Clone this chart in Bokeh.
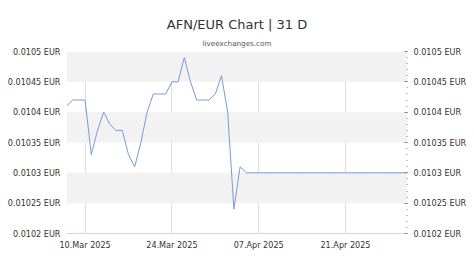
import pandas as pd
from bokeh.plotting import figure
from bokeh.models import (Range1d, FixedTicker, LinearAxis, Title,
                          DatetimeTickFormatter, BoxAnnotation)
from bokeh.embed import file_html
from bokeh.resources import INLINE

start_date = "2025-03-07"
end_date = "2025-05-01"
rates = [
    0.01041, 0.01042, 0.01042, 0.01042, 0.01033, 0.01037, 0.01040, 0.01038,
    0.01037, 0.01037, 0.01033, 0.01031, 0.01035, 0.01040, 0.01043, 0.01043,
    0.01043, 0.01045, 0.01045, 0.01049, 0.01045, 0.01042, 0.01042, 0.01042,
    0.01043,
    0.01046, 0.01040, 0.01024, 0.01031, 0.01030,
    0.01030, 0.01030, 0.01030, 0.01030, 0.01030, 0.01030, 0.01030, 0.01030,
    0.01030, 0.01030, 0.01030, 0.01030, 0.01030, 0.01030, 0.01030, 0.01030,
    0.01030, 0.01030, 0.01030, 0.01030, 0.01030, 0.01030, 0.01030, 0.01030,
    0.01030, 0.01030,
]
dates = pd.date_range(start_date, end_date, freq="D")

x_tick_dates = ["2025-03-10", "2025-03-24", "2025-04-07", "2025-04-21"]
y_ticks = [0.0102, 0.01025, 0.0103, 0.01035, 0.0104, 0.01045, 0.0105]
y_labels = ["0.0102 EUR", "0.01025 EUR", "0.0103 EUR", "0.01035 EUR",
            "0.0104 EUR", "0.01045 EUR", "0.0105 EUR"]
y_minor = [round(0.0102 + i * 0.00001, 6) for i in range(31)]

title_text = "AFN/EUR Chart | 31 D"
subtitle_text = "liveexchanges.com"

FONT = "DejaVu Sans"
TXT = "#333333"
LBL = "8.1px"

p = figure(width=474, height=266, x_axis_type="datetime",
           output_backend="svg", toolbar_location=None,
           x_range=Range1d(dates[0], dates[-1]),
           y_range=Range1d(y_ticks[0], y_ticks[-1]),
           min_border_left=66, min_border_right=67,
           min_border_bottom=33, min_border_top=51,
           y_axis_location=None)
p.title = None
p.outline_line_color = None
p.background_fill_color = "white"
p.border_fill_color = "white"

p.add_layout(Title(text=subtitle_text, align="center", text_font=FONT,
                   text_font_size="7.2px", text_color="#555555",
                   text_font_style="normal", standoff=8), "above")
p.add_layout(Title(text=title_text, align="center", text_font=FONT,
                   text_font_size="13px", text_color=TXT,
                   text_font_style="normal", standoff=1), "above")

# alternating bands (every other interval between y ticks, from the top)
for i in range(1, len(y_ticks) - 1, 2):
    p.add_layout(BoxAnnotation(bottom=y_ticks[i], top=y_ticks[i + 1],
                               fill_color="#f2f2f2", fill_alpha=1.0,
                               line_color=None, level="underlay"))

# x axis
xticks = [pd.Timestamp(d).value // 10**6 for d in x_tick_dates]
xa = p.xaxis[0]
xa.ticker = FixedTicker(ticks=xticks, minor_ticks=[])
xa.formatter = DatetimeTickFormatter(days="%d.%b %Y", months="%d.%b %Y")
xa.axis_line_color = "#ccd6eb"
xa.major_tick_line_color = None
xa.minor_tick_line_color = None
xa.major_tick_out = 0
xa.major_tick_in = 0
xa.minor_tick_out = 0
xa.major_label_text_font = FONT
xa.major_label_text_font_size = LBL
xa.major_label_text_color = TXT
xa.major_label_standoff = 6

overrides = {t: l for t, l in zip(y_ticks, y_labels)}

la = LinearAxis(ticker=FixedTicker(ticks=y_ticks, minor_ticks=[]))
la.major_label_overrides = overrides
la.axis_line_color = None
la.major_tick_line_color = None
la.minor_tick_line_color = None
la.major_tick_out = 0
la.major_tick_in = 0
la.minor_tick_out = 0
la.major_label_text_font = FONT
la.major_label_text_font_size = LBL
la.major_label_text_color = TXT
la.major_label_standoff = 6
p.add_layout(la, "left")

ra = LinearAxis(ticker=FixedTicker(ticks=y_ticks, minor_ticks=y_minor))
ra.major_label_overrides = overrides
ra.axis_line_color = None
ra.major_tick_line_color = "#888888"
ra.major_tick_in = 3
ra.major_tick_out = 0
ra.minor_tick_line_color = "#888888"
ra.minor_tick_in = 1
ra.minor_tick_out = 0
ra.major_label_text_font = FONT
ra.major_label_text_font_size = LBL
ra.major_label_text_color = TXT
ra.major_label_standoff = 6
p.add_layout(ra, "right")

# grids
p.xgrid.grid_line_color = "#dddddd"
p.xgrid.ticker = xa.ticker
p.xgrid.level = "underlay"
p.ygrid.grid_line_color = None

p.line(dates, rates, line_color="#7b9bd8", line_width=1)

open("out.html", "w").write(file_html(p, INLINE))
